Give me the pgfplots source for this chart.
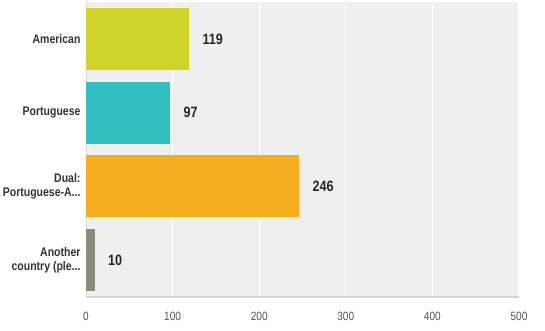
\documentclass[border=0pt]{standalone}
\usepackage{fontspec}
\setmainfont{Liberation Sans}[FakeStretch=0.84]
\usepackage{pgfplots}
\pgfplotsset{compat=1.18}
\definecolor{bgc}{HTML}{EFEFEF}
\definecolor{cAm}{HTML}{D0D42A}
\definecolor{cPt}{HTML}{33BFBF}
\definecolor{cDu}{HTML}{F5AE20}
\definecolor{cAn}{HTML}{8A8C7C}
\definecolor{lab}{HTML}{333333}
\definecolor{tickc}{HTML}{555555}
\newcommand\tdots{.\kern0pt.\kern0pt.}
\begin{document}
\begin{tikzpicture}
\begin{axis}[
  at={(0,0)}, anchor=south west,
  scale only axis, width=433bp, height=295bp,
  xbar, bar width=62bp, bar shift=0pt,
  xmin=0, xmax=500, ymin=-0.5, ymax=3.5, y dir=reverse,
  xtick={0,100,200,300,400,500},
  ytick={0,1,2,3},
  yticklabels={American,Portuguese,{Dual:\\Portuguese-A\tdots},{Another\\country (ple\tdots}},
  yticklabel style={align=right, font=\bfseries\fontsize{12.5bp}{14bp}\selectfont, text=lab, xshift=-2bp},
  xticklabel style={font=\fontsize{12bp}{14bp}\selectfont, text=tickc, yshift=-12bp},
  /pgf/number format/assume math mode=true,
  major tick length=0pt,
  axis background/.style={fill=bgc},
  xmajorgrids, grid style={white, line width=1.3bp},
  axis x line*=bottom, axis y line*=left,
  x axis line style={draw=black!17, line width=1.5bp, -},
  y axis line style={draw=black!14, line width=0.8bp, -},
  nodes near coords,
  every node near coord/.append style={anchor=west, xshift=10bp, font=\bfseries\fontsize{15bp}{17bp}\selectfont, text=black!85},
  clip=false,
]
\addplot[fill=cAm, draw=none] coordinates {(119,0)};
\addplot[fill=cPt, draw=none] coordinates {(97,1)};
\addplot[fill=cDu, draw=none] coordinates {(246,2)};
\addplot[fill=cAn, draw=none] coordinates {(10,3)};
\end{axis}
\pgfresetboundingbox
\path (-86bp,-34bp) rectangle (459bp,297bp);
\end{tikzpicture}
\end{document}
